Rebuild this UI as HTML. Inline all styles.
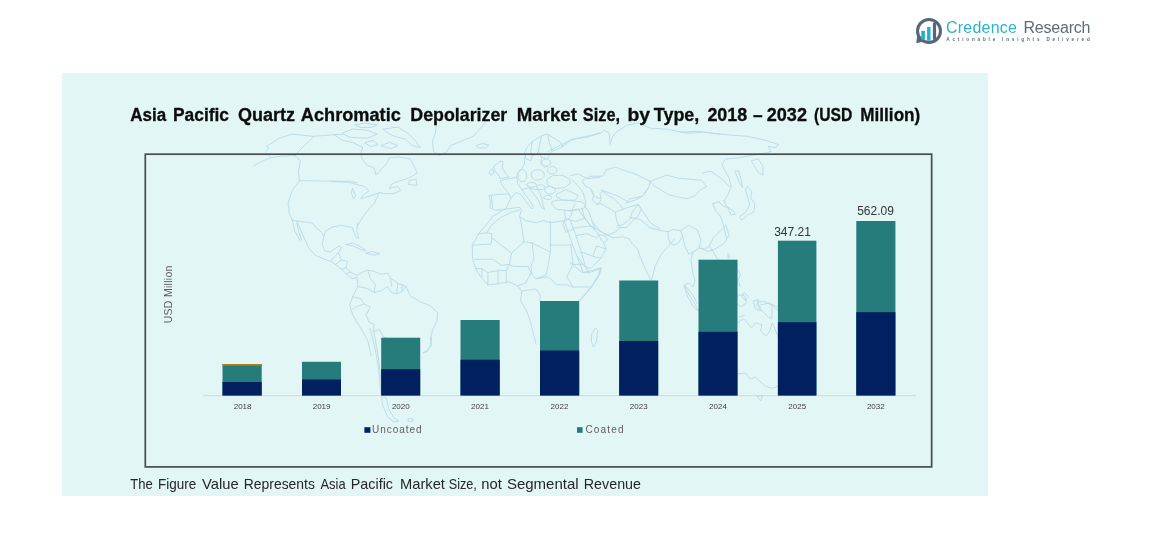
<!DOCTYPE html>
<html lang="en">
<head>
<meta charset="utf-8">
<title>Asia Pacific Quartz Achromatic Depolarizer Market Size</title>
<style>
html,body{margin:0;padding:0;background:#fff;}
body{width:1170px;height:547px;overflow:hidden;font-family:"Liberation Sans",sans-serif;}
svg{display:block;position:absolute;left:0;top:0;}
text{font-family:"Liberation Sans",sans-serif;}
.title{font-weight:bold;font-size:18px;fill:#0d0d0d;stroke:#0d0d0d;stroke-width:0.3px;}
.foot{font-size:15px;fill:#262626;}
.yr{font-size:8px;fill:#404040;text-anchor:middle;}
.val{font-size:12px;fill:#333;text-anchor:middle;}
.leg{font-size:10px;fill:#5f5f5f;}
</style>
</head>
<body>
<svg width="1170" height="547" viewBox="0 0 1170 547">
<defs><clipPath id="panelclip"><rect x="62" y="73" width="926" height="423"/></clipPath></defs>
<!-- panel -->
<rect x="62" y="73" width="926" height="423" fill="#e2f6f6"/>
<!-- MAP -->
<g id="map" fill="none" stroke="#b9d9e4" stroke-width="0.9" stroke-linejoin="round" stroke-linecap="round" clip-path="url(#panelclip)"><path d="M253.3 166 262.5 160.9 270.7 157.8 281 156.1 295.3 155.7M270.7 157.8 265.6 152.7 268.7 147.5 266.6 146.5 278.9 138.3 291.2 134.2 313.8 136.3 328.1 135.2 342.4 134.2M313.8 136.3 299.4 150.6 295.3 155.7M295.3 155.7 300.4 160.9 298.4 172.1 299.4 180.7M299.4 180.7 350.6 181.3 356.8 182.8M299.4 181.3 292.2 190.6 288.1 202.9 289.2 213.1 292.2 220.1M342.3 133.2 352.5 129.1 366.9 130.1 377.1 134.2 366.9 138.3 350.5 137.3ZM383.3 129.1 397.6 127 407.9 133.2 416 141.4 420.1 147.5 412 145.5 405.8 139.3 397.6 137.3 389.4 134.2ZM381.2 145.5 389.4 142.4 397.6 145.5 391.5 148.6ZM364.8 142.4 373 140.4 378.1 144.5 371 146.5ZM354.6 125 364.8 123 377.1 125 371 127.5 360.7 127.5ZM334.1 134.6 342.3 140.4 352.5 142.4 362.8 147.5 360.7 153.7 362.8 159.8 366.9 165 374 168 376.1 175.2 381.2 169 386.3 163.9 389.4 157.8 397.6 156.8 409.9 158.8 414 166 417.1 173.1 412 176.2 405.8 179.3 397.6 181.3 391.5 184.4 389.4 188.5M409.9 180.3 416 179.3 417.1 185.4 408.9 184.4ZM389.4 188.5 397.6 186.5 400.7 190.6 393.5 193.6 385.3 193.6 379.2 192.6 371 195.7M330 181.3 348.4 182.4 356.6 184.4 364.8 186.5 368.9 190.6 362.8 195.7 360.7 198.8 371 195.7M352.5 188.5 355.6 195.7 353.6 198.8 351.5 193.6ZM379.2 192.6 374 203.9 368.9 209 362.8 217.2 357.7 225.4M436.5 120.9 435.5 133.2 432.4 141.4 433.5 151.6 439.6 155.7 446.8 151.6 450.9 145.5 461.1 141.4 473.4 136.3 479.6 129.1 485.7 121.9M476.5 145.5 482.6 143.4 488.8 145.1 485.7 147.9 478.5 147.9ZM292.3 220 294.6 230.7 300 240.3 301.5 239.6 298.4 230.7 296.9 221.5M292.3 220 300 221.5 307.7 222.3 312.3 223 316.9 228.4 321.5 232.3 323.8 236.1M357.6 223 356.8 230.7 358.7 238.4 356.4 237.6 354.1 233 352.2 227.4 341.5 225.4 332.2 226.9 326.1 230.7 323.8 236.1 322.3 244.6 324.6 250.7 330.7 252.2 333.8 249.2 339.2 246.1 341.5 247.6 338.4 253 341.5 259.9 347.6 261.5 346.1 267.6 350.7 272.2 356.8 275.3 361 273.1M296.9 221.5 303 235.3 308.4 247.6 315.3 255.3 324.6 259.2 330.7 261.5 335.3 264.5 341.5 269.1 346.1 273.8 352.2 278.7 356.8 277.3M346.1 244.6 352.2 243 359.9 246.1 366 250.7 361.4 249.9 353.8 246.1ZM366 253 372.2 251.5 379.9 253.8 373 255ZM330.7 261.5 334.5 256.9 338.4 253M335.3 264.5 341.5 259.9M341.5 269.1 346.1 267.6M346.1 273.8 350.7 272.2M361 273.1 367.1 270.1 373.3 271.1 381.5 274.2 387.6 273.1 390.7 278.3 397.9 283.4 406 286.5 410.1 295.7 420.4 301.8 430.6 305.9 437.8 313.1 436.8 321.3 432.7 329.5 430.6 337.1 431.2 345.9 426.5 352 423.5 353M356.9 277.2 357.9 286.5 352.8 296.7 349.7 304.9 352.8 315.1 358.9 325.4 364 333.6 368.1 341.8 371.2 356.1M368.1 271.1 370.2 278.3 375.3 284.4 374.3 292.6 381.5 290.6 387.6 286.5 391.7 292.6 395.8 293.6 400.9 292.6 406 286.5M390.7 278.3 391.7 286.5M397.9 283.4 396.8 292.6M402 284.4 402 291.6M352.8 296.7 361 298.8 364 303.9 355.9 307 352.8 309M357.9 286.5 367.1 288.5 374.3 292.6M364 303.9 370.2 307 366.1 315.1 369.2 322.3 374.3 324.4 373.3 331.5 379.4 329.5 383.5 337.1 389.7 339.7 391.7 347.9 387.6 356.1M370.2 328.8 372.2 337 375.3 349.3 378.4 367.7 380.4 388.2 382.5 404.6 387.6 416.9 393.8 422 398.9 421 393.8 417.9 388.6 408.7 386.6 398.5M373.7 330.9 374.9 337 378.4 357.5 380.8 378 382.7 396.4 386.6 398.5M431.7 337 430.6 345.2 426.5 351.3 423.5 352.4M408.1 419 412.2 418.5 413.2 421 409.1 421.4ZM493.8 166.4 500 161 503 161.8 502.3 168 506.1 174.1 509.2 177.2 500 178.7 498.4 174.1 495.4 171.8ZM489.2 171.8 492.3 168.7 494.1 172.6 491.1 174.9ZM489.2 195.6 498.4 194.4 509.2 194.1 510.7 198.7 507.7 204.8 505.4 209.4 495.4 210.2 490 207.9 490.8 201.8ZM491.5 196.4 492.6 207.9M509.2 194.1 503 186.4 500 181 504.6 179.5 510.7 178.7 516.9 177.2 518.4 172.6 521.5 169.5 524.6 163.3 524.6 157.2 526.1 154.1M516.9 177.2 517.6 183.3 521.5 189.5 526.1 195.6 530.7 201.8 533.8 207.9 531.5 208.7 526.1 201.8 520.7 194.1 516.1 192.5 510.7 198.7M521.5 189.5 529.2 187.9 535.3 189.5 538.4 189.5 541.5 197.1 543 204.8 544.5 209.4 541.5 207.9 538.4 200.2 533.8 194.1 529.2 187.9M524.6 152.6 527.6 146.4 532.2 141.8 541.5 135.7 547.6 134.1 552.2 137.2 559.9 141.8 563 146.4 570.7 140.3 575.3 138.8 587.6 137.2 600 132.6M524.6 152.6 526.1 158.7 530.7 161 532.2 155.7 530.7 151 532.2 141.8M532.2 155.7 536.9 154.1 538.4 151 541.5 135.7M538.4 151 541.5 157.2 547.6 158.7 552.2 151 549.1 141.8 547.6 134.1M552.2 151 556.8 149.5 563 146.4M541.5 157.2 540.7 163.3 544.5 167.2 547.6 166.4M526.7 177.5 524.4 181.3 520.9 181.8 518.2 178.6 517.9 173.7 520.1 169.9 523.6 169.5 526.3 172.6ZM544.2 176.5 540.8 179.6 535.6 180 531.5 177.4 531 173.3 534.4 170.1 539.7 169.7 543.7 172.4ZM550.5 163.7 548.2 166 544.7 166.2 542 164.4 541.7 161.4 543.9 159.2 547.4 158.9 550.1 160.8ZM556.9 171.4 554.5 173.7 550.8 173.9 547.9 172 547.5 169.1 549.9 166.9 553.7 166.6 556.6 168.5ZM570.1 183.8 564.1 187.9 554.7 188.4 547.5 185 546.6 179.7 552.6 175.7 562 175.2 569.2 178.6ZM536.2 185.6 533.8 187 530 187.2 527.1 186 526.8 184.1 529.2 182.7 532.9 182.5 535.8 183.7ZM544.8 187.9 542.7 189.3 539.4 189.5 536.9 188.3 536.6 186.4 538.7 185 542 184.8 544.5 186ZM555.2 191.4 552.5 193.8 548.3 194 545 192.1 544.6 189.1 547.3 186.7 551.5 186.4 554.8 188.4ZM551.4 198.1 549.5 199.4 546.4 199.5 544.1 198.5 543.8 196.8 545.7 195.6 548.8 195.4 551.1 196.4ZM556.8 194.1 566 189.5 572.2 192.5 578.3 195.6 575.3 200.2 563 200.2 556.8 197.1ZM552.2 201.8 556.8 200.2 566 200.2 581.4 201.8 586 204.8 584.5 207.9 572.2 211 556.8 209.4 552.2 204.8ZM570.7 175.6 578.3 174.1 587.6 178.7 600 177.2M547.7 151.6 560 145.5 572.3 139.3 586.6 136.3 601 133.2 604 130.1 609.2 133.2 610.2 144.5 612.2 137.3 617.4 131.1 627.6 125 637.9 123 650.1 128.1 666.5 129.1 687 133.2 703.4 132.2 720 134.2M582.5 180.3 590.7 176.2 603 176.2 606.1 170.1 615.3 167 625.6 171.1 635.8 174.2 642 177.2 650.1 181.3 649.1 186.5 644 194.7 640.9 196.7 629.7 198.8 627.6 201.8 619.4 196.7 611.2 193.6 603 190.6 600 193.6 601 198.8 594.8 196.7 590.7 188.5 585.6 186.5ZM650.1 181.3 658.3 178.3 666.5 175.2 678.8 178.3 691.1 179.3 701.4 180.3 706.5 186.5 699.3 190.6 695.2 195.7 687 198.8 676.8 196.7 668.6 194.7 660.4 189.5 655.3 186.5ZM590.7 189.2 593.8 195.3 592.2 200 596.9 204.6 599.9 201.5 600.7 200M572.3 180 578.4 186.1 583 192.3 586.1 203 584.6 206.1M601.5 190 607.6 195.3 613.8 198.4 619.9 204.6 623 209.2 615.3 212.2 607.6 207.6 599.9 203 596.9 204.6M584.6 206.1 589.2 212.2 592.2 221.5 598.4 229.1 606.1 235.3 615.3 232.2 619.9 227.6 616.8 221.5 615.3 212.2M623 209.2 632.2 206.1 638.3 204.6 632.2 212.2 630.7 218.4 623 224.5 616.8 226.1M619.9 227.6 626 227.6 632.2 221.5 638.3 215.3 641.4 209.2 638.3 204.6M626 203 635.3 200 641.4 196.9 647.6 189.2M638.3 204.6 644.5 213.8 650.6 223 660 229.1M567.7 210.7 578.4 209.2 584.6 218.4 590.7 226.1 595.3 229.1 592.2 221.5M564.6 210.7 565.4 218.4 563 224.5 566.1 232.2M565.4 218.4 575.3 221.5 584.6 218.4M566.1 232.2 575.3 227.6 590.7 226.1M680 132.2 696.4 131.1 712.8 133.2 731.2 135.2 747.6 136.3 766 140.4 778.3 144.5 776.3 147.5 768.1 146.5 771.2 151.6 762 153.7 749.7 155.7 739.4 157.8 726.1 158.8 722 163.9 724 169 729.2 178.3 731.2 186.5 728.1 194.7 724 200.8M751.7 160.9 757.9 158.8 763 166 763 175.2 757.9 172.1 753.8 165ZM735.3 171.1 738.4 170.5 741.5 180.3 742.5 187.5 739.4 182.4ZM724 200.8 726.1 205.9 733.3 211 735.3 214.1 731.2 215.1 728.1 208 723 205.9 718.9 201.8M747.6 186.5 751.7 191.6 750.7 197.7 754.8 203.9 753.8 212.1 747.6 215.1 741.5 220.3 739.4 217.2 745.6 212.1 749.7 204.9 747.6 196.7 745.6 190.6ZM702.5 173.1 710.7 171.1 721 178.3 729.2 186.5M712.8 203.9 718.9 201.8M712.8 203.9 715.9 211 721 217.2 724 227.4 726.1 237.1M504.1 209.3 492.8 216.5 484.6 226.7 478.5 233.9 472.3 245.2 472.5 258.3 475.6 268.5 480.7 276.7 487.9 284.9 497.1 283.9 509.4 281.8 517.6 285.9 521.7 291 520.7 301.3 525.8 309.5 528.9 317.1 532 327.9 536 344.3M504.1 209.3 519.5 207.3 521.5 210.3 519.5 216.5 525.6 220.6 535.8 222.6 544 220.6 550.2 222.6 566.6 220.6 570.7 216.5 572.9 208.1 575 204M564.7 222.4 568.8 233.7 572.9 246 577 256.2 583.2 264.4 589.3 272.6 601.6 268.5 598.5 276.7 591.4 287 583.2 297.2 579.1 301.3M478.5 233.9 486.9 232.7 491 225.5 501.2 217.3 511.5 212.2 519.5 210.1M472.3 245.2 491 244.1 491.8 237.8 491.8 233.9 486.9 232.7M491.8 237.8 511.5 253.1 523.8 241.9 521.7 225.5 519.7 216.5M511.5 253.1 509.4 264.4 501.2 265.4 493 259.3 474.6 259.3M523.8 241.9 532 242.9 550.4 252.1 550.4 221.4M550.4 245 570.9 245M532 242.9 534 258.3 530.9 266.5 532 274.7M550.4 252.1 548.3 264.4 546.3 274.7 536 278.8M509.4 264.4 513.5 266.5 527.9 266.5 530.9 272.6 525.8 282.9 517.6 285.9M570.9 245 572.9 264.4 566.8 276.7 572.9 287 583.2 287 591.4 287M532 274.7 536 278.8 548.3 276.7 556.5 284.9 566.8 284.9 572.9 287M521.7 291 536 289 540.1 295.1 540.1 300.9M481.8 268.5 481.8 276.7M487.9 272.6 487.9 284.9M498.1 270.6 498.1 283.9M506.3 270.6 506.3 282.9M475.6 268.5 481.8 268.5 487.9 272.6 498.1 270.6 506.3 270.6 509.4 264.4M572.9 264.4 583.2 264.4M577 256.2 583.2 272.6 589.3 272.6M570 219.3 576.1 235.7 581.3 252.1 585.4 266.5 590.5 268.5 600.7 258.3 605.9 249 603.8 242.9 600.7 238.8 598.7 234.7 590.5 225.5 584.3 217.3 582.3 209.1M598.7 234.7 604.8 235.7 607.9 239.8 603.8 242.9M590.5 225.5 600.7 231.6 613 237.8 623.3 236.8 629.4 238.8 631.5 242.9 637.6 249 640.7 258.3 646.8 272.6 650.9 279.8 652 278.8 655 266.5 660.1 256.2 666.3 248 670.4 243.9 674.5 238.8M668.3 231.6 672.4 229.6 680.6 230.6 682.7 235.7 678.6 242.9 674.5 245 670.4 243.9 668.3 237.8ZM629.4 217.3 639.7 219.3 649.9 227.5 660.1 230.6 668.3 231.6M682.7 235.7 684.7 246 688.8 254.2 692.9 252.1 690.9 260.3 692.9 272.6 695 280.8 692.9 287 688.8 282.9 684.7 284.9 692.9 295.1 697 303.3M692.9 252.1 699.1 248 705.2 249 709.3 246 713.4 237.8 719.6 231.6 725.7 225.5M709.3 246 713.4 252.1 717.5 259.3M570 262.4 582.3 272.6 592.5 270.6 600.7 267.5 598.7 274.7 592.5 284.9 584.3 295.1 578.2 301.3M576.1 235.7 586.4 233.7 596.6 237.8 598.7 234.7M581.3 252.1 592.5 256.2 600.7 258.3M592.5 256.2 596.6 246 605.9 249M680.6 230.6 688.8 225.5 697 229.6 701.1 239.8 699.1 248M726 225 729.1 235.2 724 243.4 715.8 248.6 707.6 251.6 701.5 248.6M728.1 253.7 730.1 255.7 728.5 258.2ZM737.3 269 740.4 274.2 738.3 280.3 740.4 286.5 736.3 282.4ZM744.5 292.6 748.6 296.7 745.5 300.8 742.4 296.7ZM684 285.4 689.2 294.7 695.3 304.9 698.4 311 693.7 307 688.1 297.7ZM738.3 294.7 744.5 295.7 746.5 302.9 740.4 307 736.3 302.9ZM753.7 300.8 758.8 299.8 756.8 304.9 760.9 311 755.8 309ZM760.9 304.9 769.1 302.9 777.3 307M757.6 302.3 763.8 301.3 772 305.4 778.1 310.5M757.6 302.3 761.7 310.5 767.9 316.6 772 318.7 772 304.3M731 328.9 737.5 322.8 743.3 318.7 745.3 320.7 751.5 327.9 755.6 322.8 761.7 324.8 760.7 331 765.8 336.1 769.9 331 772 322.8 775 328.9 778.1 337.1M737.5 374 745.3 373 750.4 379.1 755.6 377.1 759.7 381.2 765.8 386.3 772 388.3 778.1 386.3M757.6 396.5 762.7 395.5 760.7 400.6ZM739.2 316.6 744.3 315.6M592 333.1 595.1 328 597.6 330.6 596.6 340.8 593.5 347.2 591.5 342.1Z"/></g>
<!-- chart frame -->
<rect x="145.3" y="154.2" width="786.35" height="312.7" fill="none" stroke="#454d4d" stroke-width="1.7"/>
<!-- axis -->
<line x1="203" y1="395.7" x2="916" y2="395.7" stroke="#cfd9db" stroke-width="1"/>
<!-- bars -->
<g id="bars">
<rect x="222.5" y="364" width="39.2" height="31.5" fill="#267b7b"/><rect x="222.5" y="382" width="39.2" height="13.5" fill="#002060"/>
<rect x="222.5" y="364" width="39.2" height="1" fill="#a5801e"/><rect x="222.5" y="365" width="39.2" height="1" fill="#2e9aa0"/>
<rect x="302" y="361.8" width="39" height="33.7" fill="#267b7b"/><rect x="302" y="379.5" width="39" height="16" fill="#002060"/>
<rect x="381.2" y="337.7" width="39" height="57.8" fill="#267b7b"/><rect x="381.2" y="369.2" width="39" height="26.3" fill="#002060"/>
<rect x="460.5" y="320" width="39.2" height="75.5" fill="#267b7b"/><rect x="460.5" y="359.7" width="39.2" height="35.8" fill="#002060"/>
<rect x="540" y="301" width="39.2" height="94.5" fill="#267b7b"/><rect x="540" y="350.5" width="39.2" height="45" fill="#002060"/>
<rect x="619.2" y="280.5" width="39" height="115" fill="#267b7b"/><rect x="619.2" y="341" width="39" height="54.5" fill="#002060"/>
<rect x="698.5" y="259.7" width="39" height="135.8" fill="#267b7b"/><rect x="698.5" y="331.8" width="39" height="63.7" fill="#002060"/>
<rect x="777.9" y="240.7" width="38.5" height="154.8" fill="#267b7b"/><rect x="777.9" y="322.2" width="38.5" height="73.3" fill="#002060"/>
<rect x="856.3" y="221" width="39.1" height="174.5" fill="#267b7b"/><rect x="856.3" y="312.2" width="39.1" height="83.3" fill="#002060"/>
</g>
<!-- year labels -->
<g class="yr">
<text x="242.6" y="409">2018</text>
<text x="321.6" y="409">2019</text>
<text x="400.8" y="409">2020</text>
<text x="480" y="409">2021</text>
<text x="559.5" y="409">2022</text>
<text x="638.7" y="409">2023</text>
<text x="718" y="409">2024</text>
<text x="797.2" y="409">2025</text>
<text x="875.8" y="409">2032</text>
</g>
<!-- value labels -->
<text class="val" x="792.5" y="235.6">347.21</text>
<text class="val" x="875.5" y="214.6">562.09</text>
<!-- legend -->
<rect x="364.4" y="427.2" width="6" height="5.6" fill="#002060"/>
<text class="leg" x="372" y="433.1" textLength="49.5">Uncoated</text>
<rect x="577" y="427.2" width="5.6" height="5.6" fill="#267b7b"/>
<text class="leg" x="585.4" y="433.1" textLength="38.2">Coated</text>
<!-- y axis label -->
<text class="leg" transform="translate(172.1,323.3) rotate(-90)" font-size="10.5" textLength="57.7" style="font-size:10.5px">USD Million</text>
<!-- title -->
<text class="title" y="121.3">
<tspan lengthAdjust="spacingAndGlyphs" x="130.3" textLength="36">Asia</tspan>
<tspan lengthAdjust="spacingAndGlyphs" x="173" textLength="56">Pacific</tspan>
<tspan lengthAdjust="spacingAndGlyphs" x="238" textLength="57">Quartz</tspan>
<tspan lengthAdjust="spacingAndGlyphs" x="300.8" textLength="100">Achromatic</tspan>
<tspan lengthAdjust="spacingAndGlyphs" x="410.3" textLength="97">Depolarizer</tspan>
<tspan lengthAdjust="spacingAndGlyphs" x="516.7" textLength="60.3">Market</tspan>
<tspan lengthAdjust="spacingAndGlyphs" x="582.8" textLength="37.2">Size,</tspan>
<tspan lengthAdjust="spacingAndGlyphs" x="627.4" textLength="22.6">by</tspan>
<tspan lengthAdjust="spacingAndGlyphs" x="653.8" textLength="45.5">Type,</tspan>
<tspan lengthAdjust="spacingAndGlyphs" x="707.4" textLength="39.8">2018</tspan>
<tspan lengthAdjust="spacingAndGlyphs" x="753" textLength="9.6">–</tspan>
<tspan lengthAdjust="spacingAndGlyphs" x="766.7" textLength="40.3">2032</tspan>
<tspan lengthAdjust="spacingAndGlyphs" x="814" textLength="38.3">(USD</tspan>
<tspan lengthAdjust="spacingAndGlyphs" x="860.3" textLength="60">Million)</tspan>
</text>
<!-- footnote -->
<text class="foot" y="488.8">
<tspan lengthAdjust="spacingAndGlyphs" x="130.3" textLength="22.5">The</tspan>
<tspan lengthAdjust="spacingAndGlyphs" x="158" textLength="38.2">Figure</tspan>
<tspan lengthAdjust="spacingAndGlyphs" x="202" textLength="36.7">Value</tspan>
<tspan lengthAdjust="spacingAndGlyphs" x="243.8" textLength="71.1">Represents</tspan>
<tspan lengthAdjust="spacingAndGlyphs" x="320.5" textLength="25.1">Asia</tspan>
<tspan lengthAdjust="spacingAndGlyphs" x="350.8" textLength="42.2">Pacific</tspan>
<tspan lengthAdjust="spacingAndGlyphs" x="400" textLength="44.9">Market</tspan>
<tspan lengthAdjust="spacingAndGlyphs" x="448.7" textLength="28.2">Size,</tspan>
<tspan lengthAdjust="spacingAndGlyphs" x="481.3" textLength="20.5">not</tspan>
<tspan lengthAdjust="spacingAndGlyphs" x="506.9" textLength="71.8">Segmental</tspan>
<tspan lengthAdjust="spacingAndGlyphs" x="583.8" textLength="57.2">Revenue</tspan>
</text>
<!-- logo -->
<g id="logo">
<circle cx="929" cy="31" r="11.5" fill="none" stroke="#56677a" stroke-width="3"/>
<path d="M916.2 43.2 L917.3 34.5 L922.8 41.8 Z" fill="#56677a"/>
<rect x="921.3" y="30.8" width="3.6" height="9" fill="#1fb1cf"/>
<rect x="927.1" y="27" width="3.4" height="13.8" fill="#1fb1cf"/>
<rect x="932.9" y="22.8" width="3.2" height="17" fill="#56677a"/>
<text x="946" y="32.6" font-size="16" fill="#29b3cc" textLength="71" style="font-size:16px">Credence</text>
<text x="1023.5" y="32.6" font-size="16" fill="#5c6b78" textLength="67" style="font-size:16px">Research</text>
<text x="946.3" y="41.4" font-size="4.6" font-weight="bold" fill="#5c6b78" textLength="143.4" style="font-size:4.6px">Actionable Insights Delivered</text>
</g>
</svg>
</body>
</html>
